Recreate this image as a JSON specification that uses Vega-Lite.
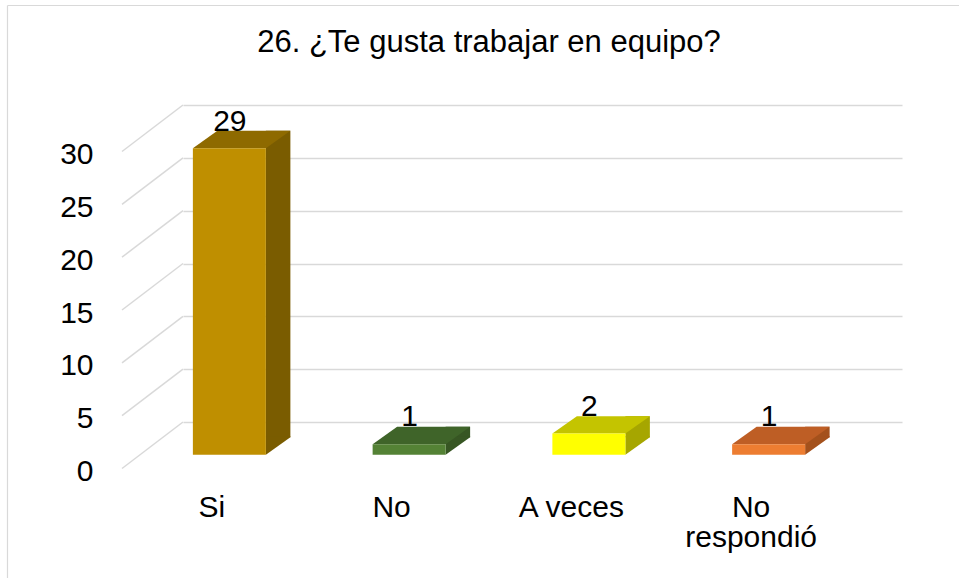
{
  "$schema": "https://vega.github.io/schema/vega-lite/v6.json",
  "width": 719,
  "height": 317,
  "autosize": {"type": "none"},
  "padding": {"left": 183, "top": 105, "right": 57, "bottom": 156},
  "background": "#ffffff",
  "config": {"view": {"stroke": null}, "font": "Liberation Sans"},
  "title": {
    "text": "26. ¿Te gusta trabajar en equipo?",
    "font": "Liberation Sans",
    "fontSize": 31,
    "fontWeight": "normal",
    "color": "#000000",
    "anchor": "middle",
    "baseline": "alphabetic",
    "offset": -78,
    "dx": -53.5
  },
  "datasets": {
    "respuestas": [
      {"respuesta": "Si", "n": 29},
      {"respuesta": "No", "n": 1},
      {"respuesta": "A veces", "n": 2},
      {"respuesta": "No respondió", "n": 1}
    ],
    "ticks": [{"t": 0}, {"t": 5}, {"t": 10}, {"t": 15}, {"t": 20}, {"t": 25}, {"t": 30}]
  },
  "layer": [
    {
      "data": {"name": "ticks"},
      "mark": {"type": "rule", "color": "#D9D9D9", "strokeWidth": 1.5, "x2Offset": -61, "y2Offset": 46.5},
      "encoding": {
        "x": {"datum": "Si", "type": "nominal", "bandPosition": 0},
        "x2": {"datum": "Si", "bandPosition": 0},
        "y": {"field": "t", "type": "quantitative", "title": null},
        "y2": {"field": "t"}
      }
    },
    {
      "data": {"name": "ticks"},
      "transform": [{"filter": "datum.t == 30"}],
      "mark": {"type": "rule", "color": "#D9D9D9", "strokeWidth": 1.2, "xOffset": -175.5, "x2Offset": 900, "yOffset": -99.5, "y2Offset": -99.5},
      "encoding": {
        "x": {"datum": "Si", "type": "nominal", "bandPosition": 0},
        "x2": {"datum": "Si", "bandPosition": 0},
        "y": {"field": "t", "type": "quantitative", "title": null},
        "y2": {"field": "t"}
      }
    },
    {
      "data": {"name": "ticks"},
      "transform": [{"filter": "datum.t == 30"}],
      "mark": {"type": "rule", "color": "#D9D9D9", "strokeWidth": 1.2, "xOffset": -175.5, "x2Offset": -175.5, "yOffset": -99.5, "y2Offset": 500},
      "encoding": {
        "x": {"datum": "Si", "type": "nominal", "bandPosition": 0},
        "x2": {"datum": "Si", "bandPosition": 0},
        "y": {"field": "t", "type": "quantitative", "title": null},
        "y2": {"field": "t"}
      }
    },
    {
      "data": {"name": "respuestas"},
      "mark": {"type": "bar", "width": 24.5, "xOffset": 5.25, "yOffset": 15.3, "y2Offset": 15.3},
      "encoding": {
        "x": {"field": "respuesta", "type": "nominal", "sort": null, "title": null},
        "y": {"field": "n", "type": "quantitative", "title": null},
        "color": {
          "field": "respuesta", "type": "nominal", "legend": null,
          "scale": {"domain": ["Si", "No", "A veces", "No respondió"], "range": ["#7A5C00", "#375623", "#A6A600", "#A4511C"]}
        }
      }
    },
    {
      "data": {"name": "respuestas"},
      "mark": {"type": "point", "shape": "M -7 14.3 L 17.5 14.3 L 17.5 15.3 L -7 32.7 Z", "size": 4, "filled": true, "opacity": 1, "strokeWidth": 0},
      "encoding": {
        "x": {"field": "respuesta", "type": "nominal", "sort": null, "title": null},
        "y": {"datum": 0, "type": "quantitative"},
        "color": {
          "field": "respuesta", "type": "nominal", "legend": null,
          "scale": {"domain": ["Si", "No", "A veces", "No respondió"], "range": ["#7A5C00", "#375623", "#A6A600", "#A4511C"]}
        }
      }
    },
    {
      "data": {"name": "respuestas"},
      "mark": {"type": "point", "shape": "M -80 32.7 L -7 32.7 L 17.5 15.3 L -55.5 15.3 Z", "size": 4, "filled": true, "opacity": 1, "strokeWidth": 0},
      "encoding": {
        "x": {"field": "respuesta", "type": "nominal", "sort": null, "title": null},
        "y": {"field": "n", "type": "quantitative", "title": null},
        "color": {
          "field": "respuesta", "type": "nominal", "legend": null,
          "scale": {"domain": ["Si", "No", "A veces", "No respondió"], "range": ["#8E6A00", "#3F6429", "#C4C400", "#BE5E25"]}
        }
      }
    },
    {
      "data": {"name": "respuestas"},
      "mark": {"type": "bar", "width": 73, "xOffset": -43.5, "yOffset": 32.7, "y2Offset": 32.7},
      "encoding": {
        "x": {
          "field": "respuesta", "type": "nominal", "sort": null, "title": null,
          "scale": {"type": "band", "domain": ["Si", "No", "A veces", "No respondió"], "paddingInner": 0, "paddingOuter": 0},
          "axis": {
            "domain": false, "ticks": false, "grid": false,
            "labelAngle": 0, "labelAlign": "center", "labelOffset": -61, "labelPadding": 70.5,
            "labelBaseline": "top", "labelFont": "Liberation Sans", "labelFontSize": 30,
            "labelLineHeight": 30, "labelColor": "#000000",
            "labelOverlap": false, "labelBound": false, "labelFlush": false,
            "labelExpr": "datum.value == 'No respondió' ? ['No', 'respondió'] : datum.label"
          }
        },
        "y": {
          "field": "n", "type": "quantitative", "title": null,
          "scale": {"domain": [0, 30], "nice": false, "zero": true},
          "axis": {
            "values": [0, 5, 10, 15, 20, 25, 30],
            "domain": false, "ticks": false, "grid": true,
            "gridColor": "#D9D9D9", "gridWidth": 1.5,
            "labelPadding": 90, "labelOffset": 49.5,
            "labelFont": "Liberation Sans", "labelFontSize": 30, "labelColor": "#000000",
            "labelOverlap": false, "labelBound": false, "labelFlush": false
          }
        },
        "color": {
          "field": "respuesta", "type": "nominal", "legend": null,
          "scale": {"domain": ["Si", "No", "A veces", "No respondió"], "range": ["#BF8F00", "#548235", "#FFFF00", "#ED7D31"]}
        }
      }
    },
    {
      "data": {"name": "respuestas"},
      "mark": {"type": "text", "font": "Liberation Sans", "fontSize": 30, "color": "#000000", "baseline": "alphabetic", "align": "center", "dx": -43, "dy": 15},
      "encoding": {
        "x": {"field": "respuesta", "type": "nominal", "sort": null, "title": null},
        "y": {"field": "n", "type": "quantitative", "title": null},
        "text": {"field": "n", "type": "quantitative"}
      }
    }
  ],
  "resolve": {"scale": {"color": "independent"}}
}
